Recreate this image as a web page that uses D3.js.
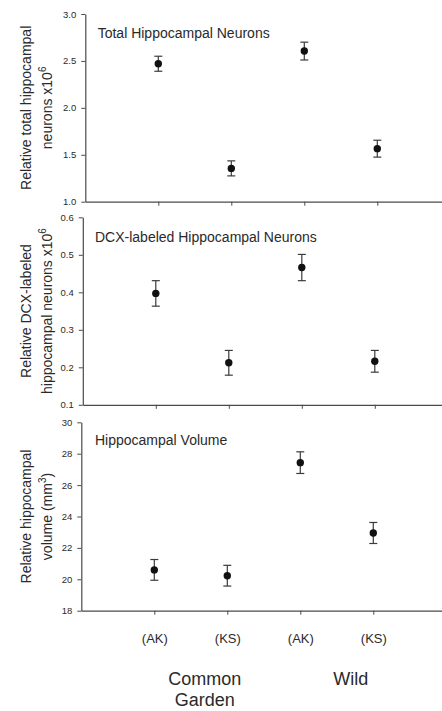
<!DOCTYPE html>
<html>
<head>
<meta charset="utf-8">
<script src="https://cdn.jsdelivr.net/npm/d3@7"></script>
<style>
  html, body { margin: 0; padding: 0; background: #fff; }
  svg { display: block; font-family: "Liberation Sans", Arial, sans-serif; }
</style>
</head>
<body>
<svg id="chart" width="442" height="711"></svg>
<script>
// ---- data ----
const categories = ["(AK)", "(KS)", "(AK)", "(KS)"];
const groups = ["Common\nGarden", "Wild"];

const totalNeurons = [2.47, 1.355, 2.605, 1.565];
const totalNeuronsErr = [0.08, 0.08, 0.095, 0.09];
const totalTicks = [1.0, 1.5, 2.0, 2.5, 3.0];

const dcxNeurons = [0.397, 0.212, 0.466, 0.216];
const dcxNeuronsErr = [0.034, 0.033, 0.035, 0.029];
const dcxTicks = [0.1, 0.2, 0.3, 0.4, 0.5, 0.6];

const volume = [20.6, 20.23, 27.43, 22.95];
const volumeErr = [0.66, 0.66, 0.69, 0.67];
const volumeTicks = [18, 20, 22, 24, 26, 28, 30];

// ---- layout ----
const W = 442;
const panels = [
  { title: "Total Hippocampal Neurons", values: totalNeurons, errs: totalNeuronsErr,
    ticks: totalTicks, fmt: d3.format(".1f"), axisX: 85.3, top: 14, bottom: 201.7,
    titleX: 97.7, titleY: 38,
    label: [["Relative total hippocampal"], ["neurons x10", "6", ""]] },
  { title: "DCX-labeled Hippocampal Neurons", values: dcxNeurons, errs: dcxNeuronsErr,
    ticks: dcxTicks, fmt: d3.format(".1f"), axisX: 82.8, top: 217.3, bottom: 404.8,
    titleX: 95, titleY: 241.5,
    label: [["Relative DCX-labeled"], ["hippocampal neurons x10", "6", ""]] },
  { title: "Hippocampal Volume", values: volume, errs: volumeErr,
    ticks: volumeTicks, fmt: d3.format("d"), axisX: 81.3, top: 422.3, bottom: 610.7,
    titleX: 95, titleY: 445,
    label: [["Relative hippocampal"], ["volume (mm", "3", ")"]] }
];

const svg = d3.select("#chart");
const axisColor = "#4a4a4a";
const textColor = "#2a2a2a";

panels.forEach((p, pi) => {
  const x = d3.scaleLinear().domain([0, 5]).range([p.axisX, p.axisX + 365]);
  const y = d3.scaleLinear().domain([p.ticks[0], p.ticks[p.ticks.length - 1]]).range([p.bottom, p.top]);
  const g = svg.append("g");

  // y axis
  const ya = g.append("g").attr("transform", `translate(${p.axisX},0)`)
    .call(d3.axisLeft(y).tickValues(p.ticks).tickFormat(p.fmt).tickSize(4).tickSizeOuter(0).tickPadding(5));
  ya.select(".domain").attr("stroke", axisColor).attr("stroke-width", 1.2);
  ya.selectAll(".tick line").attr("stroke", axisColor);
  ya.selectAll(".tick text").attr("fill", textColor).style("font-size", "9.5px")
    .style("font-family", "'Liberation Sans', Arial, sans-serif");

  // x axis
  const xa = g.append("g").attr("transform", `translate(0,${p.bottom})`)
    .call(d3.axisBottom(x).tickValues([1, 2, 3, 4])
      .tickFormat((d, i) => pi === 2 ? categories[i] : "")
      .tickSize(4).tickSizeOuter(0).tickPadding(19));
  xa.select(".domain").attr("stroke", axisColor).attr("stroke-width", 1.2);
  xa.selectAll(".tick line").attr("stroke", axisColor);
  xa.selectAll(".tick text").attr("fill", textColor).style("font-size", "13px")
    .style("font-family", "'Liberation Sans', Arial, sans-serif");

  // title
  g.append("text").attr("x", p.titleX).attr("y", p.titleY)
    .attr("fill", textColor).style("font-size", "14px").text(p.title);

  // y label
  const cy = (p.top + p.bottom) / 2;
  const lab = g.append("text").attr("transform", `translate(0,${cy}) rotate(-90)`)
    .attr("text-anchor", "middle").attr("fill", textColor).style("font-size", "14px");
  lab.append("tspan").attr("x", 0).attr("y", 31).text(p.label[0][0]);
  const l2 = lab.append("tspan").attr("x", 0).attr("y", 52);
  l2.append("tspan").text(p.label[1][0]);
  l2.append("tspan").attr("dy", -6).style("font-size", "10px").text(p.label[1][1]);
  if (p.label[1][2]) l2.append("tspan").attr("dy", 6).text(p.label[1][2]);

  // error bars
  const idx = p.values.map((v, i) => i);
  const eb = g.append("g").attr("stroke", "#3a3a3a").attr("stroke-width", 1.2);
  eb.selectAll("line.v").data(idx).join("line")
    .attr("x1", i => x(i + 1)).attr("x2", i => x(i + 1))
    .attr("y1", i => y(p.values[i] + p.errs[i])).attr("y2", i => y(p.values[i] - p.errs[i]));
  eb.selectAll("line.t").data(idx).join("line").attr("class", "t")
    .attr("x1", i => x(i + 1) - 4).attr("x2", i => x(i + 1) + 4)
    .attr("y1", i => y(p.values[i] + p.errs[i])).attr("y2", i => y(p.values[i] + p.errs[i]));
  eb.selectAll("line.b").data(idx).join("line").attr("class", "b")
    .attr("x1", i => x(i + 1) - 4).attr("x2", i => x(i + 1) + 4)
    .attr("y1", i => y(p.values[i] - p.errs[i])).attr("y2", i => y(p.values[i] - p.errs[i]));

  // points
  g.selectAll("circle").data(idx).join("circle")
    .attr("cx", i => x(i + 1)).attr("cy", i => y(p.values[i])).attr("r", 3.7)
    .attr("fill", "#111");

  // group labels under the last panel
  if (pi === 2) {
    groups.forEach((gr, gi) => {
      const cx = x(gi * 2 + 1.5) + 14;
      const t = g.append("text").attr("text-anchor", "middle").attr("fill", textColor)
        .style("font-size", "18px");
      gr.split("\n").forEach((line, li) => {
        t.append("tspan").attr("x", cx).attr("y", 685 + li * 21).text(line);
      });
    });
  }
});
</script>
</body>
</html>
